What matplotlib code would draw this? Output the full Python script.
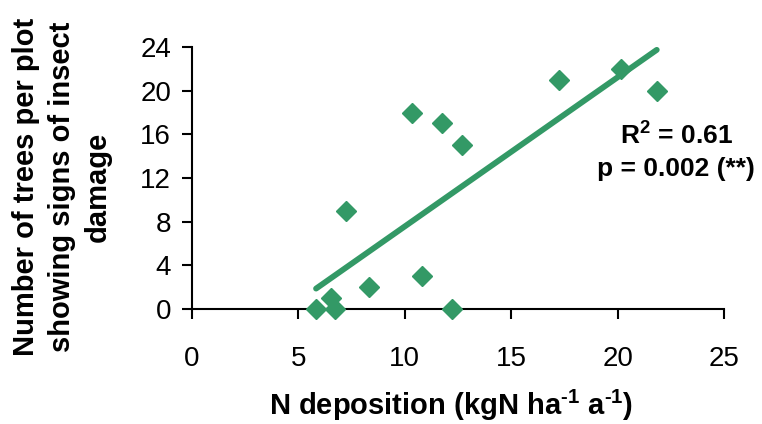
import numpy as np
import matplotlib
matplotlib.use("Agg")
import matplotlib.pyplot as plt

plt.rcParams['font.family'] = ['Liberation Sans', 'DejaVu Sans']
plt.rcParams['mathtext.fontset'] = 'custom'
plt.rcParams['mathtext.rm'] = 'Liberation Sans'
plt.rcParams['mathtext.bf'] = 'Liberation Sans:bold'

n_deposition = [5.83, 6.53, 6.70, 7.24, 8.33, 10.32, 10.82, 11.77, 12.23, 12.70, 17.25, 20.14, 21.84]
damaged_trees = [0, 1, 0, 9, 2, 18, 3, 17, 0, 15, 21, 22, 20]
x_ticks = [0, 5, 10, 15, 20, 25]
y_ticks = [0, 4, 8, 12, 16, 20, 24]

green = '#339966'

fig = plt.figure(figsize=(7.62, 4.24), dpi=100)
ax = fig.add_axes([192/762, 1-309/424, (724-192)/762, (309-47)/424])

ax.plot(n_deposition, damaged_trees, linestyle='none', marker='D', markersize=10,
        color=green, clip_on=False, zorder=3)

slope, intercept = np.polyfit(n_deposition, damaged_trees, 1)
xf = np.array([min(n_deposition), max(n_deposition)])
ax.plot(xf, slope*xf + intercept, color=green, linewidth=4.2, solid_capstyle='round', zorder=2)

ax.set_xlim(0, 25)
ax.set_ylim(0, 24)
ax.set_xticks(x_ticks)
ax.set_yticks(y_ticks)
for s in ['top', 'right']:
    ax.spines[s].set_visible(False)
for s in ['left', 'bottom']:
    ax.spines[s].set_linewidth(1.5)
ax.tick_params(axis='both', direction='out', length=7, width=1.5, labelsize=20)
ax.tick_params(axis='y', pad=8)
ax.tick_params(axis='x', pad=20)

fig.text(676/762, 1-135/424, r'R$^{\mathbf{2}}$ = 0.61', ha='center', va='center',
         fontsize=19, fontweight='bold')
fig.text(676/762, 1-169/424, 'p = 0.002 (**)', ha='center', va='center',
         fontsize=19, fontweight='bold')

fig.text(451/762, 1-415/424, r'N deposition (kgN ha$^{\mathbf{‐1}}$ a$^{\mathbf{‐1}}$)',
         ha='center', va='baseline', fontsize=21, fontweight='bold')
fig.text(62/762, 1-187/424, 'Number of trees per plot\nshowing signs of insect\ndamage',
         ha='center', va='center', rotation=90, fontsize=21, fontweight='bold',
         linespacing=1.35)

fig.savefig('out.png', dpi=100)
